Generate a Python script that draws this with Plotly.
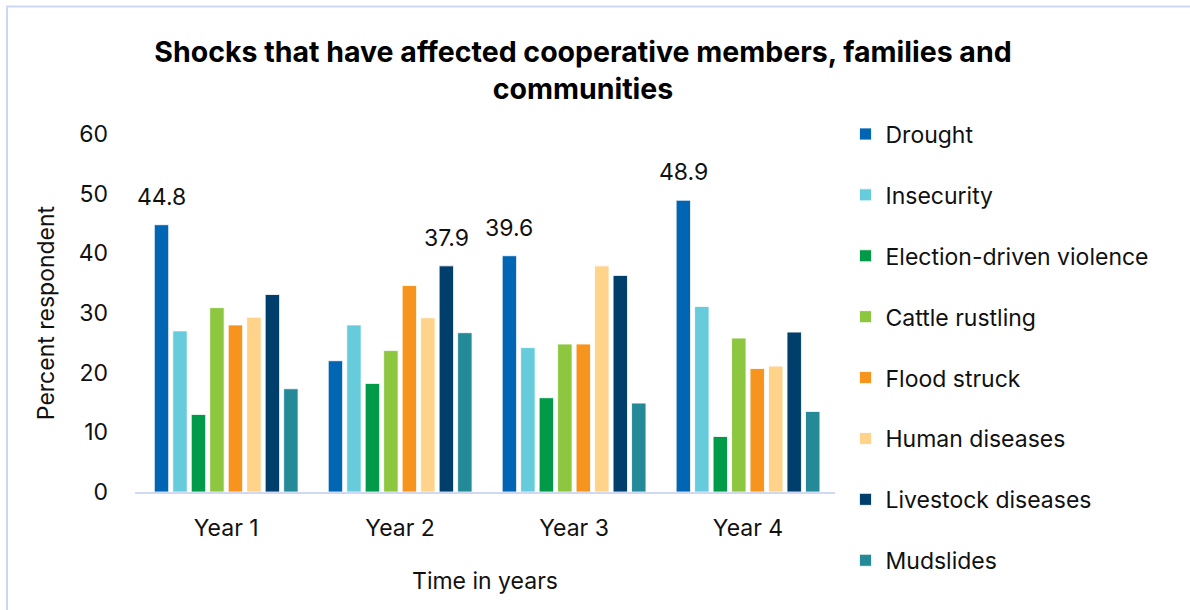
import plotly.graph_objects as go

years = ["Year 1", "Year 2", "Year 3", "Year 4"]
series_names = ["Drought", "Insecurity", "Election-driven violence", "Cattle rustling",
                "Flood struck", "Human diseases", "Livestock diseases", "Mudslides"]
drought = [44.8, 22.0, 39.6, 48.9]
insecurity = [27.0, 28.0, 24.2, 31.1]
election = [13.0, 18.2, 15.8, 9.3]
cattle = [30.9, 23.7, 24.8, 25.8]
flood = [28.0, 34.6, 24.8, 20.7]
human = [29.3, 29.2, 37.9, 21.1]
livestock = [33.1, 37.9, 36.3, 26.8]
mudslides = [17.3, 26.7, 14.9, 13.5]
colors = ["#0066B3", "#66CCDB", "#009A49", "#8DC63F", "#F7941D", "#FFD38A", "#003F6B", "#248A98"]
# labelled bars: (year index, series index)
labelled = [(0, 0), (1, 6), (2, 0), (3, 0)]

values = [drought, insecurity, election, cattle, flood, human, livestock, mudslides]
FONT = "Inter, DejaVu Sans, sans-serif"
FS = 23
BARGAP = 0.15

fig = go.Figure()
for i, (name, vals, col) in enumerate(zip(series_names, values, colors)):
    fig.add_trace(go.Bar(
        x=years, y=vals, name=name, legendgroup=name,
        marker=dict(color=col, line=dict(color="rgba(255,255,255,0.8)", width=1)),
        hoverinfo="x+y+name",
    ))

n = len(series_names)
slot = (1 - BARGAP) / n
for yi, si in labelled:
    xpos = yi - (1 - BARGAP) / 2 + (si + 0.5) * slot
    fig.add_annotation(x=xpos, y=values[si][yi], xref="x", yref="y",
                       text=f"{values[si][yi]:.1f}", showarrow=False,
                       yanchor="bottom", yshift=12,
                       font=dict(family=FONT, size=FS, color="#111111"))

fig.add_shape(type="rect", xref="paper", yref="paper",
              x0=(7 - 135) / 700, x1=3, y0=-3, y1=(492.5 - 7) / 358,
              line=dict(color="#CDD6F4", width=2), fillcolor="rgba(0,0,0,0)", layer="below")

fig.update_layout(
    width=1190, height=610,
    margin=dict(l=135, r=355, t=134, b=118),
    paper_bgcolor="white", plot_bgcolor="white",
    barmode="group", bargap=BARGAP, bargroupgap=0.22,
    font=dict(family=FONT, size=FS, color="#111111"),
    title=dict(text="<b>Shocks that have affected cooperative members, families and<br>communities</b>",
               x=583 / 1190, xanchor="center", xref="container",
               y=1 - 62 / 610, yanchor="top", yref="container",
               font=dict(family=FONT, size=28.5, color="#000000")),
    legend=dict(x=1.015, xanchor="left", y=1.06, yanchor="top",
                font=dict(family=FONT, size=FS, color="#111111"),
                traceorder="grouped", tracegroupgap=28, itemclick=False,
                maxheight=600, bgcolor="rgba(0,0,0,0)"),
    xaxis=dict(showline=True, linecolor="#D0D8F2", linewidth=2, ticks="",
               ticklabelstandoff=14, tickfont=dict(size=FS),
               title=dict(text="Time in years", standoff=32, font=dict(size=FS))),
    yaxis=dict(range=[0, 60], dtick=10, showgrid=False, zeroline=False, showline=False,
               ticks="", ticklabelstandoff=26, tickfont=dict(size=FS),
               title=dict(text="Percent respondent", standoff=17, font=dict(size=FS))),
)

fig.write_html("out.html")
